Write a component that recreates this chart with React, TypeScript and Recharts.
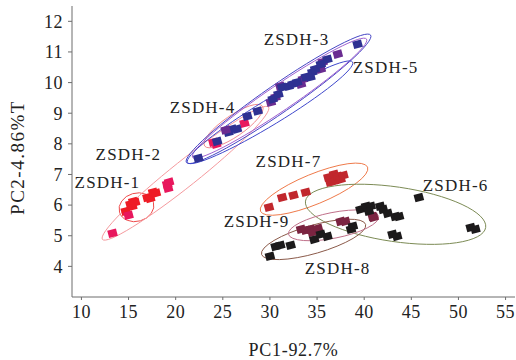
import React from "react";
import { ScatterChart, Scatter, XAxis, YAxis, ReferenceArea } from "recharts";

// sample scores [PC1, PC2]
const zsdh1 = [[14.7, 5.8], [15.2, 6.03], [15.5, 6.12], [15.4, 5.96], [15.7, 6.09], [17.0, 6.25], [17.3, 6.22], [17.6, 6.42], [17.9, 6.39]];
const zsdh2 = [[13.3, 5.08], [15.0, 5.67], [19.1, 6.68], [19.3, 6.75], [19.2, 6.55], [24.0, 8.05], [24.3, 7.99], [27.3, 8.67]];
const zsdh4 = [[22.4, 7.53], [24.4, 8.08], [25.6, 8.38], [26.0, 8.48], [26.5, 8.48], [27.6, 8.9], [28.7, 9.07]];
const zsdh3 = [[30.3, 9.46], [30.9, 9.62], [31.3, 9.85], [32.0, 9.88], [32.4, 9.95], [32.9, 10.01], [33.8, 10.18], [34.3, 10.18], [34.5, 10.34], [34.8, 10.44], [35.4, 10.6], [36.1, 10.76], [39.3, 11.25]];
const zsdh5 = [[25.3, 8.45], [30.1, 9.36], [30.6, 9.52], [31.1, 9.88], [33.3, 9.95], [33.5, 10.11], [35.4, 10.44], [35.6, 10.67], [37.2, 10.93]];
const zsdh6 = [[39.6, 5.86], [40.2, 5.96], [40.7, 5.96], [40.5, 5.8], [41.7, 5.96], [42.0, 5.86], [42.5, 5.73], [43.3, 5.63], [43.7, 5.63], [45.8, 6.25], [43.0, 5.05], [43.5, 4.98], [51.3, 5.27], [51.8, 5.21]];
const zsdh7 = [[29.9, 5.93], [31.3, 6.25], [32.5, 6.32], [33.8, 6.42], [36.2, 6.91], [36.4, 6.75], [36.8, 7.01], [36.8, 6.78], [37.2, 6.94], [37.5, 6.84], [37.8, 6.97]];
const zsdh8 = [[30.0, 4.33], [30.6, 4.65], [31.1, 4.69], [32.2, 4.69], [34.7, 4.88], [35.4, 5.05], [36.1, 4.98], [38.6, 5.21], [38.8, 5.31]];
const zsdh9 = [[33.3, 5.21], [33.8, 5.18], [34.3, 5.21], [34.5, 5.11], [35.1, 5.24], [37.5, 5.47], [38.0, 5.47], [40.9, 5.63], [41.0, 5.6]];

// confidence ellipses: centre, end of major axis, minor/major ratio
const ellipseCentres = [[15.84, 5.93], [21.04, 7.04], [26.14, 8.58], [30.91, 9.47], [31.02, 9.49], [30.01, 9.03], [34.68, 6.52], [43.33, 5.7], [34.63, 4.88], [36.75, 5.34]];
const ellipseTips = [[17.64, 6.09], [29.85, 9.2], [29.21, 9.23], [40.68, 11.55], [40.25, 11.42], [38.77, 10.67], [40.36, 7.24], [52.89, 5.27], [40.15, 5.37], [41.53, 5.63]];
const ellipseRatios = [0.8, 0.12, 0.3, 0.125, 0.12, 0.13, 0.26, 0.3, 0.26, 0.28];
const ellipseColors = ["#ef4a4a", "#f59a9e", "#f08a8e", "#4545c4", "#a060d0", "#3f48cc", "#ef7a4a", "#7c8b55", "#8b5a4a", "#c0708a"];

const groupLabels = ["ZSDH-1", "ZSDH-2", "ZSDH-3", "ZSDH-4", "ZSDH-5", "ZSDH-6", "ZSDH-7", "ZSDH-8", "ZSDH-9"];
const labelAnchors = [[12.76, 6.75], [14.99, 7.66], [32.82, 11.42], [22.85, 9.2], [42.27, 10.5], [49.7, 6.65], [31.97, 7.43], [37.18, 3.93], [28.58, 5.47]];

const xTicks = [10, 15, 20, 25, 30, 35, 40, 45, 50, 55];
const yTicks = [4, 5, 6, 7, 8, 9, 10, 11, 12];

const series = [
  { name: "ZSDH-1", pts: zsdh1, color: "#ee1c25" },
  { name: "ZSDH-2", pts: zsdh2, color: "#e8175d" },
  { name: "ZSDH-4", pts: zsdh4, color: "#2e3192" },
  { name: "ZSDH-5", pts: zsdh5, color: "#6a2c91" },
  { name: "ZSDH-3", pts: zsdh3, color: "#2e3192" },
  { name: "ZSDH-7", pts: zsdh7, color: "#c1272d" },
  { name: "ZSDH-9", pts: zsdh9, color: "#7b2441" },
  { name: "ZSDH-6", pts: zsdh6, color: "#1c1a1b" },
  { name: "ZSDH-8", pts: zsdh8, color: "#1c1a1b" },
];

const serif = "'Liberation Serif', 'Times New Roman', serif";

function makeSquare(color: string) {
  return (p: any) => (
    <rect
      x={p.cx - 4.5}
      y={p.cy - 3.75}
      width={9}
      height={7.5}
      fill={color}
      transform={`rotate(-15 ${p.cx} ${p.cy})`}
    />
  );
}

function makeEllipse(i: number) {
  return (p: any) => {
    // rect spans one data unit from the centre, giving pixel scale
    const cx = p.x;
    const cy = p.y + p.height;
    const sx = p.width;
    const sy = p.height;
    const ux = (ellipseTips[i][0] - ellipseCentres[i][0]) * sx;
    const uy = -(ellipseTips[i][1] - ellipseCentres[i][1]) * sy;
    const r = ellipseRatios[i];
    const vx = -uy * r;
    const vy = ux * r;
    return (
      <circle
        r={1}
        cx={0}
        cy={0}
        fill="none"
        stroke={ellipseColors[i]}
        strokeWidth={1}
        vectorEffect="non-scaling-stroke"
        transform={`matrix(${ux} ${uy} ${vx} ${vy} ${cx} ${cy})`}
      />
    );
  };
}

const LabelText = (p: any) => (
  <text
    x={p.cx}
    y={p.cy}
    textAnchor="middle"
    dominantBaseline="central"
    fontFamily={serif}
    fontSize={17}
    letterSpacing={1.2}
    fill="#222"
  >
    {p.payload.label}
  </text>
);

const YTitle = (props: any) => {
  const vb = props.viewBox;
  const x = vb.x + 17;
  const y = vb.y + vb.height / 2 + 6;
  return (
    <text
      x={x}
      y={y}
      transform={`rotate(-90 ${x} ${y})`}
      textAnchor="middle"
      dominantBaseline="central"
      fontFamily={serif}
      fontSize={19}
      letterSpacing={1.5}
      fill="#222"
    >
      PC2-4.86%T
    </text>
  );
};

export default function App() {
  const labelData = groupLabels.map((label, i) => ({ x: labelAnchors[i][0], y: labelAnchors[i][1], label }));
  return (
    <div style={{ position: "absolute", left: 0, top: 0, background: "#fff" }}>
      <ScatterChart width={516} height={360} margin={{ top: 6, right: 1, left: 0, bottom: 0 }}>
        <XAxis
          type="number"
          dataKey="x"
          domain={[9, 56]}
          ticks={xTicks}
          allowDataOverflow
          height={63}
          stroke="#6d6d6d"
          tickSize={3}
          tickMargin={5}
          tick={{ fill: "#222", fontSize: 18, fontFamily: serif, letterSpacing: 0.5 }}
          label={{ value: "PC1-92.7%", position: "insideBottom", offset: 4, style: { fontFamily: serif, fontSize: 18, fill: "#222", letterSpacing: 0.7 } }}
        />
        <YAxis
          type="number"
          dataKey="y"
          domain={[3, 12.5]}
          ticks={yTicks}
          allowDataOverflow
          width={72}
          stroke="#6d6d6d"
          tickSize={4}
          tickMargin={5}
          tick={{ fill: "#222", fontSize: 18, fontFamily: serif, letterSpacing: 0.5 }}
          label={{ content: YTitle }}
        />
        {ellipseCentres.map((c, i) => (
          <ReferenceArea
            key={"e" + i}
            x1={c[0]}
            x2={c[0] + 1}
            y1={c[1]}
            y2={c[1] + 1}
            ifOverflow="visible"
            shape={makeEllipse(i)}
          />
        ))}
        {series.map((s) => (
          <Scatter
            key={s.name}
            name={s.name}
            data={s.pts.map(([x, y]) => ({ x, y }))}
            fill={s.color}
            shape={makeSquare(s.color)}
            isAnimationActive={false}
          />
        ))}
        <Scatter data={labelData} shape={LabelText} isAnimationActive={false} />
      </ScatterChart>
    </div>
  );
}
